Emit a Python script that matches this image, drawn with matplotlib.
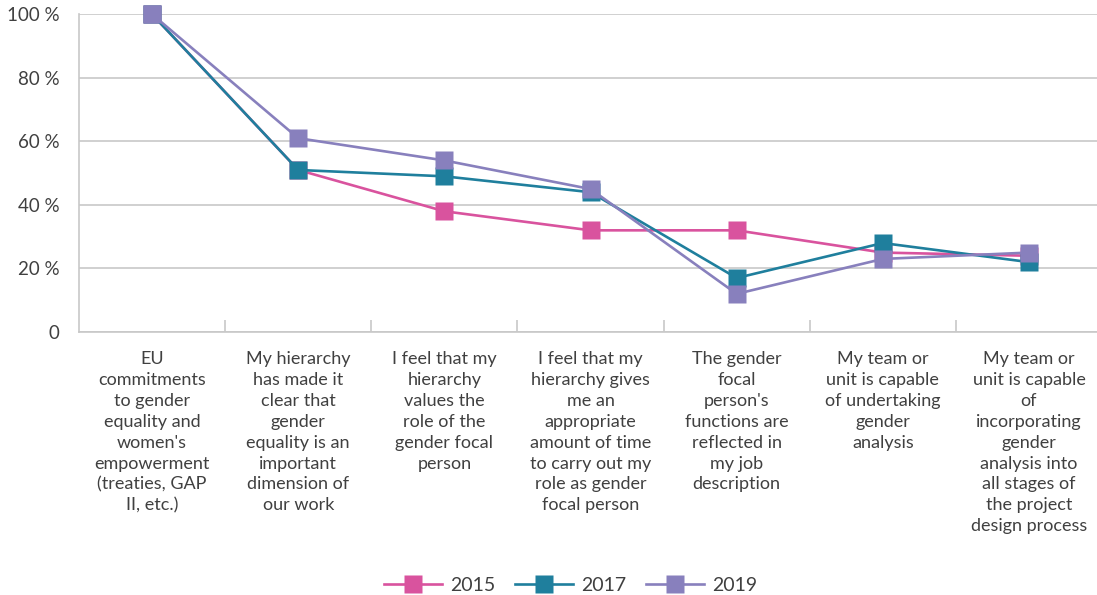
import matplotlib.pyplot as plt
import numpy as np

categories = [
    "EU\ncommitments\nto gender\nequality and\nwomen's\nempowerment\n(treaties, GAP\nII, etc.)",
    "My hierarchy\nhas made it\nclear that\ngender\nequality is an\nimportant\ndimension of\nour work",
    "I feel that my\nhierarchy\nvalues the\nrole of the\ngender focal\nperson",
    "I feel that my\nhierarchy gives\nme an\nappropriate\namount of time\nto carry out my\nrole as gender\nfocal person",
    "The gender\nfocal\nperson's\nfunctions are\nreflected in\nmy job\ndescription",
    "My team or\nunit is capable\nof undertaking\ngender\nanalysis",
    "My team or\nunit is capable\nof\nincorporating\ngender\nanalysis into\nall stages of\nthe project\ndesign process",
]
years = ["2015", "2017", "2019"]
v2015 = [100, 51, 38, 32, 32, 25, 24]
v2017 = [100, 51, 49, 44, 17, 28, 22]
v2019 = [100, 61, 54, 45, 12, 23, 25]
colors = ["#d9539e", "#1f7f9d", "#8880bd"]

plt.rcParams['font.family'] = ['Lato', 'DejaVu Sans']
txt = '#404040'
grid = '#c8c8c8'

fig = plt.figure(figsize=(10.97, 5.95), dpi=100)
ax = fig.add_axes([0.072, 0.442, 0.9326, 0.534])

x = np.arange(len(categories))
for vals, col, lab in zip([v2015, v2017, v2019], colors, years):
    ax.plot(x, vals, color=col, lw=1.9, marker='s', ms=12.5, mec='none',
            label=lab, clip_on=False)

ax.set_xlim(-0.5, len(categories) - 0.5)
ax.set_ylim(0, 100)
ax.set_yticks(range(0, 101, 20))
ax.set_yticklabels(['0'] + [f'{v} %' for v in range(20, 101, 20)])
ax.yaxis.grid(True, color=grid, lw=1.2)
ax.set_axisbelow(True)
ax.tick_params(axis='y', length=0, labelsize=13.5, colors=txt, pad=14)

ax.set_xticks(x)
ax.set_xticklabels(categories, fontsize=13, color=txt, linespacing=1.37)
ax.set_xticks(np.arange(0.5, len(categories) - 0.5, 1), minor=True)
ax.tick_params(axis='x', which='major', length=0, pad=14)
ax.tick_params(axis='x', which='minor', direction='in', length=9, color=grid, width=1.2)

for s in ['top', 'right']:
    ax.spines[s].set_visible(False)
for s in ['left', 'bottom']:
    ax.spines[s].set_color(grid)
    ax.spines[s].set_linewidth(1.2)

fig.legend(loc='lower center', bbox_to_anchor=(0.52, -0.027), ncol=3, frameon=False,
           fontsize=14, labelcolor=txt, handlelength=3.0, columnspacing=1.0,
           handletextpad=0.4)

fig.savefig('out.png', dpi=100)
